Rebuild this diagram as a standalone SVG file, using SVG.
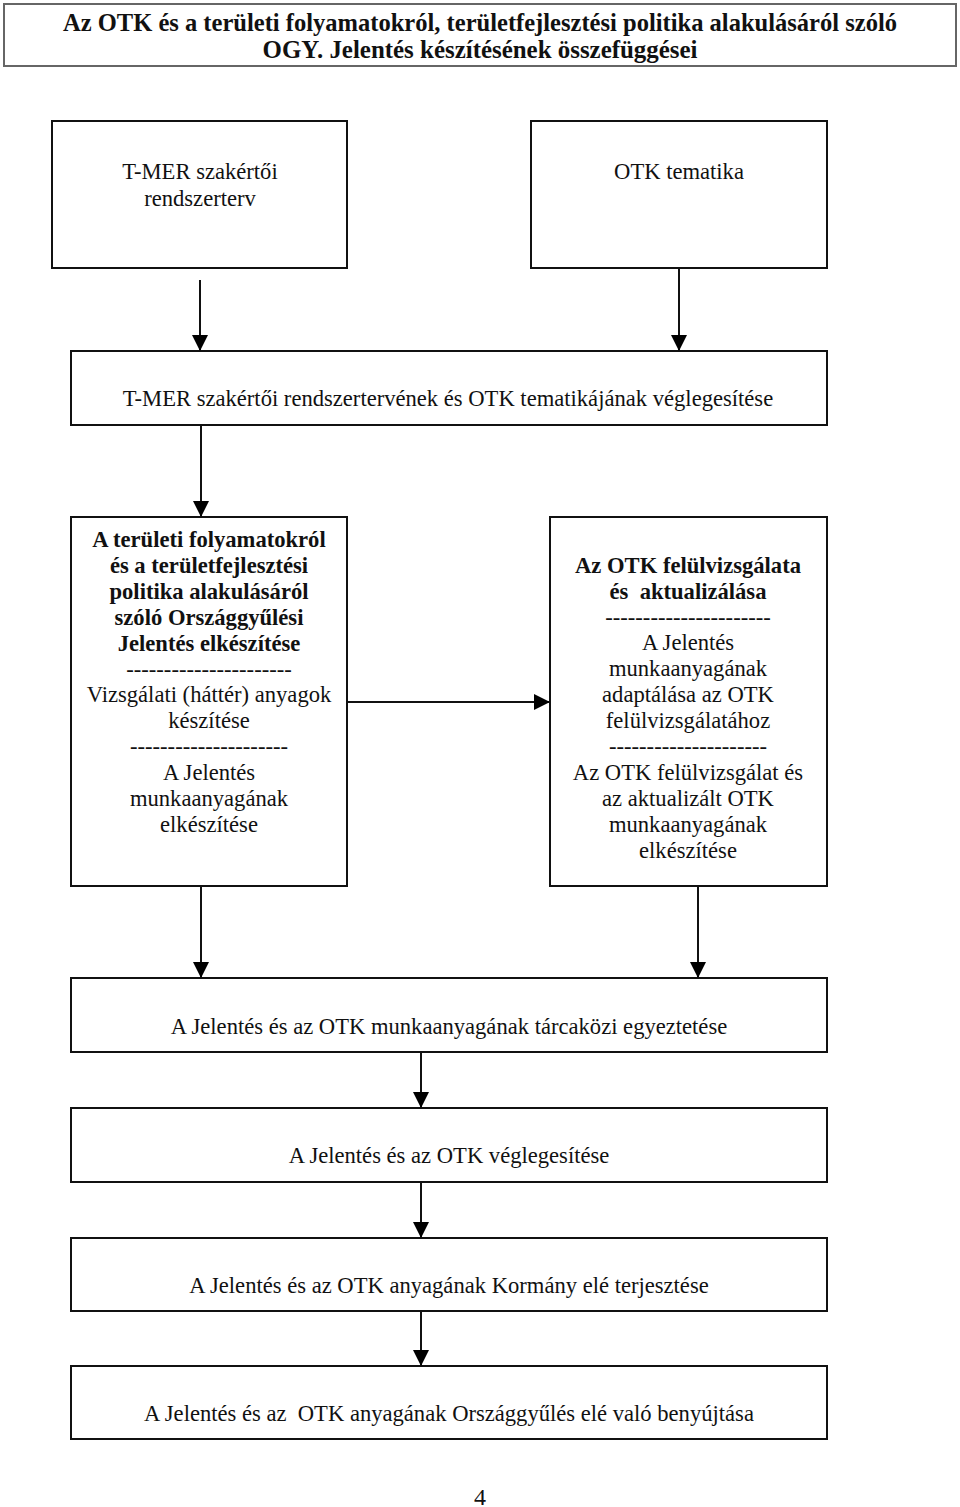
<svg xmlns="http://www.w3.org/2000/svg" width="960" height="1507" viewBox="0 0 960 1507">
<defs>
<style>
.box{fill:#fff;stroke:#111;stroke-width:2}
.t{font-family:"Liberation Serif","Times New Roman",serif;font-size:22.6px;fill:#111;text-anchor:middle}
.b{font-weight:bold}
.pre{white-space:pre}
.title{font-family:"Liberation Serif","Times New Roman",serif;font-size:26px;font-weight:bold;fill:#111;text-anchor:middle}
.c{stroke:#111;stroke-width:2;fill:none}
</style>
<marker id="ah" viewBox="0 0 16 16" refX="16" refY="8" markerWidth="16" markerHeight="16" markerUnits="userSpaceOnUse" orient="auto">
<path d="M0,0 L16,8 L0,16 Z" fill="#000"/>
</marker>
</defs>
<rect width="960" height="1507" fill="#fff"/>
<g id="title">
<rect x="4" y="4" width="952" height="62" fill="#fff" stroke="#666" stroke-width="2"/>
<text class="title" x="480" y="31" textLength="834" lengthAdjust="spacingAndGlyphs">Az OTK és a területi folyamatokról, területfejlesztési politika alakulásáról szóló</text>
<text class="title" x="480" y="58" textLength="435" lengthAdjust="spacingAndGlyphs">OGY. Jelentés készítésének összefüggései</text>
</g>
<g id="n1">
<rect class="box" x="52" y="121" width="295" height="147"/>
<text class="t" x="200" y="179">T-MER szakértői</text>
<text class="t" x="200" y="206">rendszerterv</text>
</g>
<g id="n2">
<rect class="box" x="531" y="121" width="296" height="147"/>
<text class="t" x="679" y="179">OTK tematika</text>
</g>
<g id="n3">
<rect class="box" x="71" y="351" width="756" height="74"/>
<text class="t" x="448" y="406">T-MER szakértői rendszertervének és OTK tematikájának véglegesítése</text>
</g>
<g id="n4">
<rect class="box" x="71" y="517" width="276" height="369"/>
<text class="t b" x="209" y="547">A területi folyamatokról</text>
<text class="t b" x="209" y="573">és a területfejlesztési</text>
<text class="t b" x="209" y="599">politika alakulásáról</text>
<text class="t b" x="209" y="625">szóló Országgyűlési</text>
<text class="t b" x="209" y="651">Jelentés elkészítése</text>
<text class="t" x="209" y="677">----------------------</text>
<text class="t" x="209" y="702">Vizsgálati (háttér) anyagok</text>
<text class="t" x="209" y="728">készítése</text>
<text class="t" x="209" y="754">---------------------</text>
<text class="t" x="209" y="780">A Jelentés</text>
<text class="t" x="209" y="806">munkaanyagának</text>
<text class="t" x="209" y="832">elkészítése</text>
</g>
<g id="n5">
<rect class="box" x="550" y="517" width="277" height="369"/>
<text class="t b" x="688" y="573">Az OTK felülvizsgálata</text>
<text class="t b pre" x="688" y="599" xml:space="preserve">és  aktualizálása</text>
<text class="t" x="688" y="625">----------------------</text>
<text class="t" x="688" y="650">A Jelentés</text>
<text class="t" x="688" y="676">munkaanyagának</text>
<text class="t" x="688" y="702">adaptálása az OTK</text>
<text class="t" x="688" y="728">felülvizsgálatához</text>
<text class="t" x="688" y="754">---------------------</text>
<text class="t" x="688" y="780">Az OTK felülvizsgálat és</text>
<text class="t" x="688" y="806">az aktualizált OTK</text>
<text class="t" x="688" y="832">munkaanyagának</text>
<text class="t" x="688" y="858">elkészítése</text>
</g>
<g id="n6">
<rect class="box" x="71" y="978" width="756" height="74"/>
<text class="t" x="449" y="1034">A Jelentés és az OTK munkaanyagának tárcaközi egyeztetése</text>
</g>
<g id="n7">
<rect class="box" x="71" y="1108" width="756" height="74"/>
<text class="t" x="449" y="1163">A Jelentés és az OTK véglegesítése</text>
</g>
<g id="n8">
<rect class="box" x="71" y="1238" width="756" height="73"/>
<text class="t" x="449" y="1293">A Jelentés és az OTK anyagának Kormány elé terjesztése</text>
</g>
<g id="n9">
<rect class="box" x="71" y="1366" width="756" height="73"/>
<text class="t pre" x="449" y="1421" xml:space="preserve">A Jelentés és az  OTK anyagának Országgyűlés elé való benyújtása</text>
</g>
<g id="connectors">
<line class="c" x1="200" y1="280" x2="200" y2="351" marker-end="url(#ah)"/>
<line class="c" x1="679" y1="269" x2="679" y2="351" marker-end="url(#ah)"/>
<line class="c" x1="201" y1="426" x2="201" y2="517" marker-end="url(#ah)"/>
<line class="c" x1="347" y1="702" x2="550" y2="702" marker-end="url(#ah)"/>
<line class="c" x1="201" y1="887" x2="201" y2="978" marker-end="url(#ah)"/>
<line class="c" x1="698" y1="887" x2="698" y2="978" marker-end="url(#ah)"/>
<line class="c" x1="421" y1="1053" x2="421" y2="1108" marker-end="url(#ah)"/>
<line class="c" x1="421" y1="1183" x2="421" y2="1238" marker-end="url(#ah)"/>
<line class="c" x1="421" y1="1312" x2="421" y2="1366" marker-end="url(#ah)"/>
</g>
<text class="t" x="480" y="1505" style="font-size:24px">4</text>
</svg>
